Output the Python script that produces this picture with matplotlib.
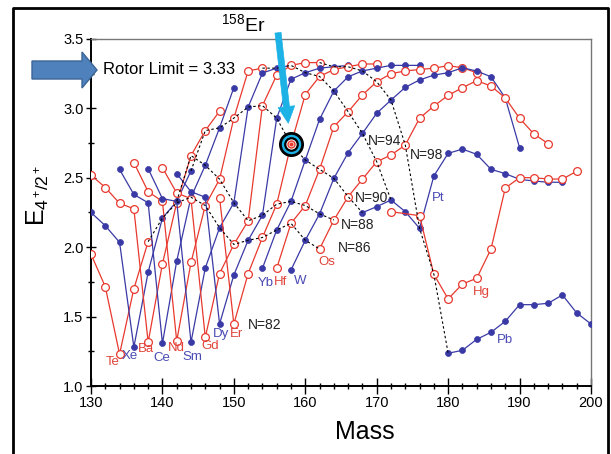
import matplotlib
matplotlib.use('Agg')
import matplotlib.pyplot as plt
import numpy as np
from matplotlib.patches import Polygon
from matplotlib.lines import Line2D
from matplotlib.ticker import FormatStrFormatter
import matplotlib.transforms as mtransforms

plt.rcParams['font.family'] = ['Liberation Sans', 'DejaVu Sans']
plt.rcParams['mathtext.fontset'] = 'custom'
plt.rcParams['mathtext.rm'] = 'Liberation Sans'
plt.rcParams['mathtext.it'] = 'Liberation Sans:italic'

# ---------------- data: R(4/2) vs mass for each element ----------------
te_mass = [130, 132, 134, 136, 138]
te_r = [1.95, 1.715, 1.23, 1.70, 2.04]
xe_mass = [130, 132, 134, 136, 138, 140, 142, 144]
xe_r = [2.25, 2.155, 2.035, 1.28, 1.82, 2.21, 2.33, 2.55]
ba_mass = [130, 132, 134, 136, 138, 140, 142, 144, 146, 148]
ba_r = [2.52, 2.43, 2.316, 2.277, 1.315, 1.88, 2.32, 2.66, 2.84, 2.98]
ce_mass = [134, 136, 138, 140, 142, 144, 146, 148, 150]
ce_r = [2.56, 2.38, 2.32, 1.307, 1.90, 2.36, 2.59, 2.86, 3.15]
nd_mass = [136, 138, 140, 142, 144, 146, 148, 150, 152, 154]
nd_r = [2.61, 2.40, 2.33, 1.324, 1.89, 2.30, 2.49, 2.93, 3.27, 3.29]
sm_mass = [138, 140, 142, 144, 146, 148, 150, 152, 154, 156, 158]
sm_r = [2.566, 2.35, 2.33, 1.315, 1.85, 2.14, 2.32, 3.01, 3.255, 3.29, 3.31]
gd_mass = [140, 142, 144, 146, 148, 150, 152, 154, 156, 158, 160, 162]
gd_r = [2.573, 2.39, 2.35, 1.35, 1.81, 2.02, 2.19, 3.02, 3.24, 3.31, 3.33, 3.33]
dy_mass = [142, 144, 146, 148, 150, 152, 154, 156, 158, 160, 162, 164, 166]
dy_r = [2.53, 2.40, 2.36, 1.447, 1.80, 2.05, 2.23, 2.93, 3.21, 3.257, 3.29, 3.30, 3.31]
er_mass = [148, 150, 152, 154, 156, 158, 160, 162, 164, 166, 168, 170]
er_r = [2.357, 1.447, 1.81, 2.07, 2.31, 2.741, 3.10, 3.23, 3.28, 3.30, 3.32, 3.32]
yb_mass = [154, 156, 158, 160, 162, 164, 166, 168, 170, 172, 174, 176]
yb_r = [1.848, 2.124, 2.33, 2.628, 2.921, 3.125, 3.228, 3.27, 3.29, 3.31, 3.31, 3.31]
hf_mass = [156, 158, 160, 162, 164, 166, 168, 170, 172, 174, 176, 178, 180, 182, 184]
hf_r = [1.848, 2.172, 2.30, 2.561, 2.868, 2.976, 3.097, 3.192, 3.25, 3.27, 3.28, 3.29, 3.308, 3.293, 3.257]
w_mass = [158, 160, 162, 164, 166, 168, 170, 172, 174, 176, 178, 180, 182, 184, 186, 188, 190]
w_r = [1.836, 2.05, 2.24, 2.496, 2.681, 2.82, 2.965, 3.06, 3.152, 3.205, 3.24, 3.257, 3.293, 3.269, 3.228, 3.075, 2.717]
os_mass = [162, 164, 166, 168, 170, 172, 174, 176, 178, 180, 182, 184, 186, 188, 190, 192, 194]
os_r = [1.987, 2.196, 2.364, 2.49, 2.616, 2.664, 2.736, 2.929, 3.017, 3.094, 3.149, 3.20, 3.161, 3.075, 2.929, 2.816, 2.746]
pt_mass = [168, 170, 172, 174, 176, 178, 180, 182, 184, 186, 188, 190, 192, 194, 196]
pt_r = [2.249, 2.292, 2.34, 2.256, 2.136, 2.513, 2.676, 2.707, 2.669, 2.561, 2.53, 2.489, 2.477, 2.468, 2.468]
hg_mass = [172, 176, 178, 180, 182, 184, 186, 188, 190, 192, 194, 196, 198]
hg_r = [2.256, 2.227, 1.805, 1.627, 1.735, 1.776, 1.987, 2.426, 2.501, 2.501, 2.491, 2.491, 2.547]
pb_mass = [180, 182, 184, 186, 188, 190, 192, 194, 196, 198, 200]
pb_r = [1.236, 1.257, 1.336, 1.387, 1.466, 1.586, 1.586, 1.596, 1.656, 1.526, 1.447]

element_names = ['Te', 'Xe', 'Ba', 'Ce', 'Nd', 'Sm', 'Gd', 'Dy', 'Er', 'Yb', 'Hf', 'W', 'Os', 'Pt', 'Hg', 'Pb']
element_z = [52, 54, 56, 58, 60, 62, 64, 66, 68, 70, 72, 74, 76, 78, 80, 82]
element_mass = [te_mass, xe_mass, ba_mass, ce_mass, nd_mass, sm_mass, gd_mass, dy_mass,
                er_mass, yb_mass, hf_mass, w_mass, os_mass, pt_mass, hg_mass, pb_mass]
element_r = [te_r, xe_r, ba_r, ce_r, nd_r, sm_r, gd_r, dy_r,
             er_r, yb_r, hf_r, w_r, os_r, pt_r, hg_r, pb_r]
# label positions (mass, R) for element names
label_mass = [133.1, 135.4, 137.7, 139.9, 142.0, 144.2, 146.7, 148.2, 150.4, 154.4, 156.6, 159.3, 163.0, 178.6, 184.6, 188.0]
label_r = [1.173, 1.215, 1.27, 1.205, 1.275, 1.21, 1.29, 1.375, 1.375, 1.74, 1.75, 1.76, 1.89, 2.355, 1.677, 1.33]

isotones = [86, 88, 90, 94, 98]
isotone_label_mass = [164.6, 165.0, 167.0, 168.8, 174.7]
isotone_label_r = [1.994, 2.16, 2.355, 2.765, 2.664]
n82_label = (152.0, 1.44)

highlight_mass, highlight_r = 158, 2.741
rotor_limit = 3.33

RED = '#e8392e'
BLUE = '#3a3aa6'
RED_T = '#e0443a'
BLUE_T = '#4a4ab4'

W_PX, H_PX = 611, 454
fig = plt.figure(figsize=(W_PX / 100, H_PX / 100), dpi=100)
ax = fig.add_axes([91 / W_PX, 1 - 386 / H_PX, 500 / W_PX, 347 / H_PX])
ax.set_xlim(130, 200)
ax.set_ylim(1.0, 3.5)

# series
for i, (name, ms, rs) in enumerate(zip(element_names, element_mass, element_r)):
    if i % 2 == 0:
        ax.plot(ms, rs, '-', color=RED, lw=0.9, marker='o', ms=5.6, mfc='white',
                mec=RED, mew=0.9, zorder=3)
    else:
        ax.plot(ms, rs, '-', color=BLUE, lw=0.9, marker='o', ms=4.3, mfc=BLUE,
                mec=BLUE, mew=0.5, zorder=3)

# isotone dashed lines
for n in isotones:
    xs, ys = [], []
    for z, ms, rs in zip(element_z, element_mass, element_r):
        for m, r in zip(ms, rs):
            if m - z == n:
                xs.append(m)
                ys.append(r)
    ax.plot(xs, ys, color='black', lw=0.8, ls=(0, (2.2, 2.2)), zorder=4)

# element labels
for i, (name, lx, ly) in enumerate(zip(element_names, label_mass, label_r)):
    ax.text(lx, ly, name, color=RED_T if i % 2 == 0 else BLUE_T, fontsize=9.5,
            ha='center', va='center', zorder=6)
for n, lx, ly in zip(isotones, isotone_label_mass, isotone_label_r):
    ax.text(lx, ly, f'N={n}', fontsize=10, ha='left', va='center', color='#222222', zorder=6)
ax.text(n82_label[0], n82_label[1], 'N=82', fontsize=10, ha='left', va='center', color='#222222')

# highlight 158Er
ax.plot([highlight_mass], [highlight_r], 'o', ms=16, mfc='#1cb2e6', mec='black', mew=2.0, zorder=7)
ax.plot([highlight_mass], [highlight_r], 'o', ms=9, mfc='white', mec='black', mew=1.6, zorder=8)
ax.plot([highlight_mass], [highlight_r], 'o', ms=5.0, mfc='white', mec=RED, mew=1.0, zorder=9)
ax.plot([highlight_mass], [highlight_r], 'o', ms=2.0, mfc=RED, mec=RED, zorder=10)

# cyan arrow from title to the point
ax.annotate('', xy=(157.62, 2.893), xytext=(156.18, 3.545), xycoords='data',
            annotation_clip=False,
            arrowprops=dict(arrowstyle='simple,head_length=0.6,head_width=0.6,tail_width=0.22',
                            mutation_scale=20, fc='#1cb2e6', ec='#1cb2e6', lw=0.5, shrinkA=0, shrinkB=0),
            zorder=11)
fig.text(243 / W_PX, 1 - 24 / H_PX, r'$^{158}$Er', fontsize=14, ha='center', va='center')

# rotor limit text + block arrow
fig.text(103 / W_PX, 1 - 70 / H_PX, f'Rotor Limit = {rotor_limit:.2f}', fontsize=12,
         ha='left', va='center')
arrow_px = [(32, 61), (82, 61), (82, 52), (97, 70), (82, 88), (82, 79), (32, 79)]
tr = mtransforms.Affine2D().scale(1 / W_PX, -1 / H_PX).translate(0, 1) + fig.transFigure
fig.patches.append(Polygon(arrow_px, closed=True, fc='#4f81bd', ec='#3b6595', lw=1.0, transform=tr))

# outer frame (left, top, right edges; bottom lies outside the picture)
frame_x = [13, 13, 608, 608]
frame_y = [470, 8, 8, 470]
fig.lines.append(Line2D(frame_x, frame_y, color='black', lw=2.0, transform=tr))

# axes style
ax.set_xticks(np.arange(130, 201, 10))
ax.set_xticks(np.arange(130, 201, 2), minor=True)
ax.set_yticks(np.arange(1.0, 3.51, 0.5))
ax.set_yticks(np.arange(1.0, 3.51, 0.25), minor=True)
ax.yaxis.set_major_formatter(FormatStrFormatter('%.1f'))
ax.tick_params(axis='x', which='major', direction='inout', length=11, width=1, labelsize=10.5, pad=2)
ax.tick_params(axis='x', which='minor', direction='inout', length=5, width=1)
ax.tick_params(axis='y', which='major', direction='inout', length=7, width=1, labelsize=10.5, pad=2)
ax.tick_params(axis='y', which='minor', direction='inout', length=5, width=1)
for s in ['left', 'bottom']:
    ax.spines[s].set_linewidth(1.4)
    ax.spines[s].set_color('black')
for s in ['top', 'right']:
    ax.spines[s].set_linewidth(1.0)
    ax.spines[s].set_color('#777777')

fig.text(365 / W_PX, 1 - 432 / H_PX, 'Mass', fontsize=18, ha='center', va='center')
fig.text(38 / W_PX, 1 - 195 / H_PX, r'E$_{4^+\!/2^+}$', fontsize=18, ha='center', va='center',
         rotation=90)

fig.savefig('out.png', dpi=100)
